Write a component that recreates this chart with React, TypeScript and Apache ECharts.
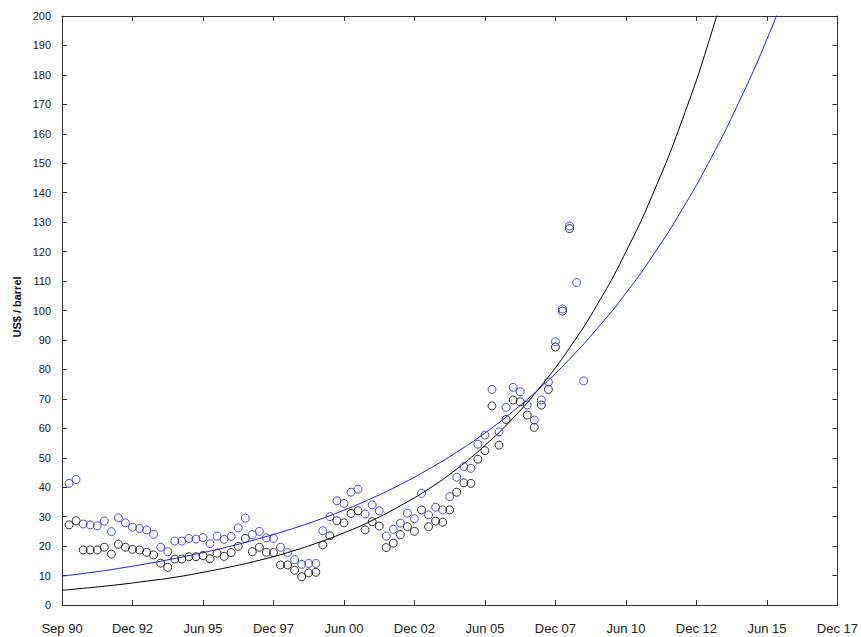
import React, { useEffect, useRef } from "react";
import * as echarts from "echarts";

// Axis tick labels (bottom axis), one every 2.5 years starting at the axis origin
const xTickLabels = [
  "Sep 90", "Dec 92", "Jun 95", "Dec 97", "Jun 00", "Dec 02",
  "Jun 05", "Dec 07", "Jun 10", "Dec 12", "Jun 15", "Dec 17",
];
const axisStartYear = 1990.5;
const axisEndYear = 2018.0;
const tickStepYears = 2.5;

// Quarterly observation dates (decimal years)
const pointDates = [
  1990.75, 1991.0, 1991.25, 1991.5, 1991.75, 1992.0, 1992.25, 1992.5, 1992.75, 1993.0,
  1993.25, 1993.5, 1993.75, 1994.0, 1994.25, 1994.5, 1994.75, 1995.0, 1995.25, 1995.5,
  1995.75, 1996.0, 1996.25, 1996.5, 1996.75, 1997.0, 1997.25, 1997.5, 1997.75, 1998.0,
  1998.25, 1998.5, 1998.75, 1999.0, 1999.25, 1999.5, 1999.75, 2000.0, 2000.25, 2000.5,
  2000.75, 2001.0, 2001.25, 2001.5, 2001.75, 2002.0, 2002.25, 2002.5, 2002.75, 2003.0,
  2003.25, 2003.5, 2003.75, 2004.0, 2004.25, 2004.5, 2004.75, 2005.0, 2005.25, 2005.5,
  2005.75, 2006.0, 2006.25, 2006.5, 2006.75, 2007.0, 2007.25, 2007.5, 2007.75, 2008.0,
  2008.25, 2008.5, 2008.75, 2009.0,
];

// Black circles (US$ / barrel)
const blackPrices: (number | null)[] = [
  27.2, 28.6, 18.7, 18.7, 18.7, 19.6, 17.3, 20.6, 19.6, 18.9,
  18.7, 17.9, 17.0, 14.2, 12.8, 15.6, 15.6, 16.4, 16.4, 16.8,
  15.7, 17.6, 16.5, 17.8, 19.9, 22.6, 18.1, 19.6, 17.9, 17.8,
  13.6, 13.6, 11.8, 9.6, 10.9, 11.1, 20.4, 23.5, 28.6, 27.9,
  31.1, 32.0, 25.5, 28.3, 26.8, 19.5, 21.0, 23.9, 26.6, 25.0,
  32.3, 26.6, 28.5, 28.1, 32.3, 38.3, 41.5, 41.3, 49.5, 52.4,
  67.6, 54.3, 63.0, 69.6, 69.0, 64.5, 60.3, 67.9, 73.2, 87.6,
  99.8, 127.8, null, null,
];

// Blue circles (US$ / barrel)
const bluePrices: (number | null)[] = [
  41.3, 42.6, 27.5, 27.2, 26.9, 28.5, 24.9, 29.6, 27.9, 26.4,
  26.0, 25.5, 24.0, 19.6, 18.1, 21.7, 21.7, 22.6, 22.4, 22.9,
  20.8, 23.4, 22.3, 23.3, 26.2, 29.5, 23.9, 25.0, 22.8, 22.6,
  19.6, 17.8, 15.4, 13.8, 14.1, 14.1, 25.2, 30.0, 35.4, 34.5,
  38.3, 39.3, 30.9, 34.0, 32.0, 23.4, 25.7, 27.8, 31.2, 29.3,
  37.9, 30.6, 33.2, 32.3, 36.8, 43.4, 47.0, 46.4, 54.6, 57.7,
  73.2, 58.8, 67.1, 73.9, 72.4, 67.9, 62.8, 69.6, 75.7, 89.4,
  100.5, 128.7, 109.5, 76.1,
];

// Fitted trend curves
const blackFitYears = [
  1990.5, 1991.5, 1992.5, 1993.5, 1994.5, 1995.5, 1996.5, 1997.5, 1998.5, 1999.5,
  2000.5, 2001.5, 2002.5, 2003.5, 2004.5, 2005.5, 2006.5, 2007.5, 2008.5, 2009.5,
  2010.5, 2011.5, 2012.5, 2013.5, 2014.5, 2015.5,
];
const blackFitValues = [
  5.0, 5.9, 6.9, 8.1, 9.4, 11.1, 13.0, 15.2, 17.8, 20.9,
  24.5, 28.7, 33.7, 39.4, 46.2, 54.2, 63.5, 74.5, 87.3, 102.3,
  119.9, 140.6, 164.8, 193.2, 226.5, 265.4,
];
const blueFitYears = [
  1990.5, 1991.5, 1992.5, 1993.5, 1994.5, 1995.5, 1996.5, 1997.5, 1998.5, 1999.5,
  2000.5, 2001.5, 2002.5, 2003.5, 2004.5, 2005.5, 2006.5, 2007.5, 2008.5, 2009.5,
  2010.5, 2011.5, 2012.5, 2013.5, 2014.5, 2015.5, 2016.5,
];
const blueFitValues = [
  9.8, 11.0, 12.4, 14.0, 15.8, 17.8, 20.0, 22.6, 25.4, 28.6,
  32.2, 36.3, 40.9, 46.1, 51.9, 58.4, 65.8, 74.1, 83.5, 94.1,
  105.9, 119.3, 134.4, 151.4, 170.6, 192.1, 216.4,
];

const yAxisTitle = "US$ / barrel";

export default function App() {
  const ref = useRef<HTMLDivElement>(null);

  useEffect(() => {
    if (!ref.current) return;
    const chart = echarts.init(ref.current, null, { renderer: "svg" });
    const toX = (yr: number) => yr - axisStartYear;
    const pairs = (xs: number[], ys: (number | null)[]) =>
      xs
        .map((x, i) => (ys[i] == null ? null : [toX(x), ys[i] as number]))
        .filter((p) => p !== null) as number[][];

    const axisColor = "#333333";
    const blue = "#2020e0";
    const font = "'Liberation Sans', Arial, sans-serif";
    const xMax = axisEndYear - axisStartYear;

    const xCommon = {
      type: "value" as const,
      min: 0,
      max: xMax,
      interval: tickStepYears,
      splitLine: { show: false },
      axisLine: { show: true, onZero: false, lineStyle: { color: axisColor, width: 1 } },
      axisTick: { show: true, inside: true, length: 5, lineStyle: { color: axisColor } },
    };
    const yCommon = {
      type: "value" as const,
      min: 0,
      max: 200,
      interval: 10,
      splitLine: { show: false },
      axisLine: { show: true, onZero: false, lineStyle: { color: axisColor, width: 1 } },
      axisTick: { show: true, inside: true, length: 5, lineStyle: { color: axisColor } },
    };

    chart.setOption({
      animation: false,
      backgroundColor: "#ffffff",
      grid: { left: 62, right: 22, top: 16, bottom: 32, containLabel: false },
      xAxis: [
        {
          ...xCommon,
          position: "bottom",
          axisLabel: {
            show: true,
            margin: 17,
            fontSize: 13,
            fontFamily: font,
            color: "#222222",
            formatter: (v: number) => xTickLabels[Math.round(v / tickStepYears)] ?? "",
          },
        },
        { ...xCommon, position: "top", axisLabel: { show: false } },
      ],
      yAxis: [
        {
          ...yCommon,
          position: "left",
          axisLabel: {
            show: true,
            margin: 11,
            fontSize: 11,
            fontFamily: font,
            color: "#222222",
          },
        },
        { ...yCommon, position: "right", axisLabel: { show: false } },
      ],
      graphic: [
        {
          type: "text",
          x: 17,
          y: 307,
          rotation: Math.PI / 2,
          style: {
            text: yAxisTitle,
            fontSize: 11,
            fontWeight: "bold",
            fontFamily: font,
            fill: "#111111",
            textAlign: "center",
            textVerticalAlign: "middle",
          },
        },
      ],
      series: [
        {
          type: "scatter",
          name: "black points",
          data: pairs(pointDates, blackPrices),
          symbol: "circle",
          symbolSize: 8,
          itemStyle: { color: "transparent", borderColor: "#000000", borderWidth: 1 },
          z: 2,
        },
        {
          type: "scatter",
          name: "blue points",
          data: pairs(pointDates, bluePrices),
          symbol: "circle",
          symbolSize: 8,
          itemStyle: { color: "transparent", borderColor: blue, borderWidth: 1 },
          z: 3,
        },
        {
          type: "line",
          name: "black fit",
          data: pairs(blackFitYears, blackFitValues),
          smooth: true,
          showSymbol: false,
          clip: true,
          lineStyle: { color: "#000000", width: 1 },
          z: 4,
        },
        {
          type: "line",
          name: "blue fit",
          data: pairs(blueFitYears, blueFitValues),
          smooth: true,
          showSymbol: false,
          clip: true,
          lineStyle: { color: blue, width: 1 },
          z: 4,
        },
      ],
    });

    return () => {
      chart.dispose();
    };
  }, []);

  return (
    <div
      ref={ref}
      style={{
        position: "absolute",
        left: 0,
        top: 0,
        width: 861,
        height: 637,
        background: "#ffffff",
      }}
    />
  );
}
